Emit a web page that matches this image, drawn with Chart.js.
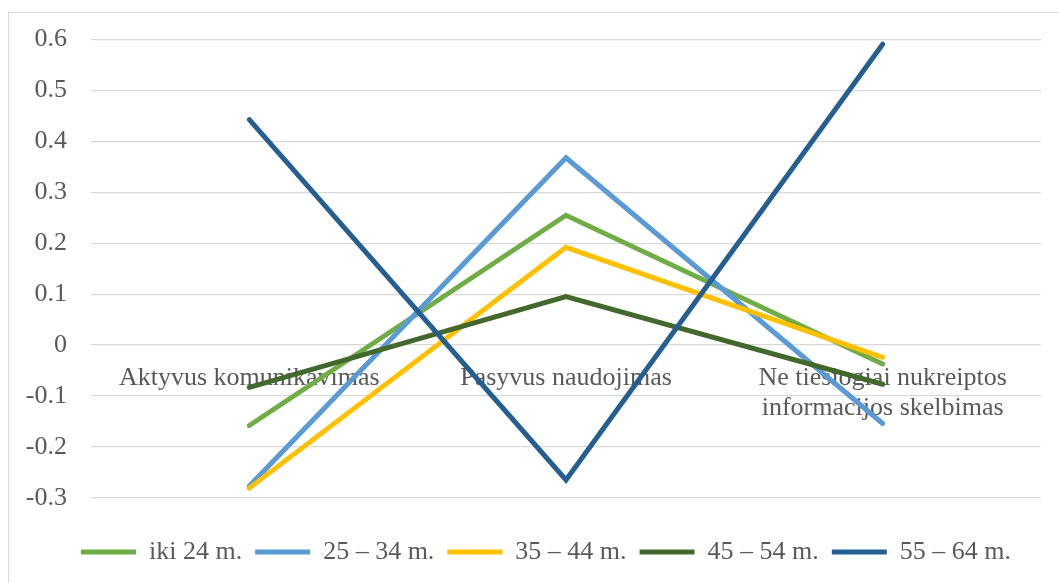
<!DOCTYPE html>
<html>
<head>
<meta charset="utf-8">
<script src="https://cdn.jsdelivr.net/npm/chart.js@4/dist/chart.umd.min.js"></script>
<style>
  body { margin: 0; background: #fff; }
  #wrap { position: relative; width: 1059px; height: 583px; overflow: hidden; }
  #frame { position: absolute; left: 8px; top: 12px; width: 1100px; height: 700px; border: 1px solid #d9d9d9; }
  #grafikas { position: absolute; left: 0; top: 0; }
</style>
</head>
<body>
<div id="wrap">
  <div id="frame"></div>
  <canvas id="grafikas" width="1059" height="583"></canvas>
</div>
<script>
// kategorijos (x ašis)
const kategorijos = [
  "Aktyvus komunikavimas",
  "Pasyvus naudojimas",
  ["Ne tiesiogiai nukreiptos", "informacijos skelbimas"]
];

// amžiaus grupės
const grupes = ["iki 24 m.", "25 – 34 m.", "35 – 44 m.", "45 – 54 m.", "55 – 64 m."];

// reikšmės pagal grupę
const iki24 = [-0.158, 0.255, -0.037];
const g25_34 = [-0.277, 0.368, -0.154];
const g35_44 = [-0.281, 0.192, -0.024];
const g45_54 = [-0.083, 0.095, -0.077];
const g55_64 = [0.443, -0.265, 0.591];

const spalvos = ["#70AD47", "#5B9BD5", "#FFC000", "#43682B", "#255E91"];
const reiksmes = [iki24, g25_34, g35_44, g45_54, g55_64];

const tekstoSpalva = "#595959";
const sriftas = "'Liberation Serif', 'Times New Roman', serif";

const datasets = grupes.map((pav, i) => ({
  label: pav,
  data: reiksmes[i],
  borderColor: spalvos[i],
  backgroundColor: spalvos[i],
  borderWidth: 5,
  borderCapStyle: "round",
  pointRadius: 0,
  tension: 0,
  // paskutinė serija piešiama viršuje
  order: grupes.length - 1 - i
}));

// legendą truputį pastumiam į dešinę
const legendosPoslinkis = {
  id: "legendosPoslinkis",
  afterLayout(chart) {
    chart.legend.left = 51;
  }
};

new Chart(document.getElementById("grafikas"), {
  type: "line",
  data: { labels: kategorijos, datasets },
  plugins: [legendosPoslinkis],
  options: {
    responsive: false,
    animation: false,
    layout: { padding: { top: 32, right: 18, bottom: 8, left: 0 } },
    plugins: {
      tooltip: { enabled: false },
      legend: {
        position: "bottom",
        // tuščias pavadinimas - tik tarpas tarp grafiko ir legendos
        title: { display: true, text: "", font: { size: 1 }, padding: { top: 27, bottom: 0 } },
        labels: {
          usePointStyle: true,
          pointStyle: "line",
          pointStyleWidth: 55,
          boxHeight: 6,
          padding: 13,
          color: tekstoSpalva,
          font: { family: sriftas, size: 26 },
          sort: (a, b) => a.datasetIndex - b.datasetIndex
        }
      }
    },
    scales: {
      x: {
        position: { y: 0 },
        offset: true,
        grid: { display: false, drawTicks: false },
        border: { display: false },
        ticks: {
          padding: 18,
          color: tekstoSpalva,
          font: { family: sriftas, size: 26, lineHeight: 1.15 },
          maxRotation: 0,
          autoSkip: false
        }
      },
      y: {
        min: -0.3,
        max: 0.6,
        grid: { color: "#d9d9d9", lineWidth: 1.3, drawTicks: false },
        border: { display: false },
        ticks: {
          stepSize: 0.1,
          padding: 24,
          color: tekstoSpalva,
          font: { family: sriftas, size: 26 },
          callback: (v) => String(Math.round(v * 10) / 10)
        },
        // ašies plotis fiksuotas, kad grafiko sritis prasidėtų ties 91px
        afterFit: (axis) => { axis.width = 91; }
      }
    }
  }
});
</script>
</body>
</html>
